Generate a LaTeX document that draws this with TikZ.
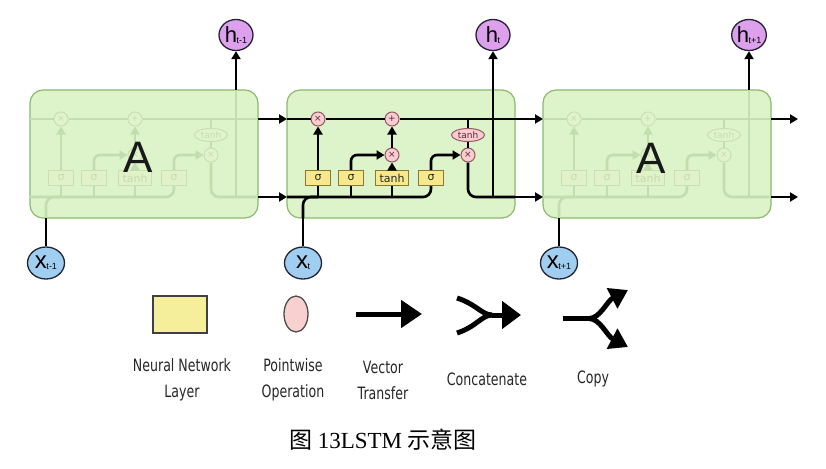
\documentclass[tikz,border=0pt]{standalone}
\usepackage{fontspec}
\setmainfont{Liberation Serif}
\newfontfamily\cjkfont{Noto Sans CJK SC}
\newfontfamily\dvs{DejaVu Sans}
\newfontfamily\legfont[FakeStretch=0.74]{DejaVu Sans}
\newfontfamily\lsans{Liberation Sans}
\usetikzlibrary{arrows.meta,shapes.geometric}

\definecolor{boxfill}{RGB}{221,243,201}
\definecolor{boxdraw}{RGB}{140,185,112}
\colorlet{cline}{black}
\definecolor{gfill}{RGB}{246,233,140}
\definecolor{gdraw}{RGB}{140,120,50}
\definecolor{gtext}{RGB}{40,40,40}
\definecolor{ofill}{RGB}{248,205,210}
\definecolor{odraw}{RGB}{150,90,100}
\definecolor{otext}{RGB}{90,40,50}
\definecolor{hfill}{RGB}{221,160,236}
\definecolor{xfill}{RGB}{160,206,240}
\definecolor{cdraw}{RGB}{35,35,50}
\definecolor{legyellow}{RGB}{245,239,155}
\definecolor{legpink}{RGB}{248,208,208}

\newcommand\faintcolors{%
  \definecolor{cline}{RGB}{194,221,174}%
  \definecolor{gfill}{RGB}{225,242,200}%
  \definecolor{gdraw}{RGB}{200,224,178}%
  \definecolor{gtext}{RGB}{196,220,176}%
  \definecolor{ofill}{RGB}{225,243,205}%
  \definecolor{odraw}{RGB}{200,224,180}%
  \definecolor{otext}{RGB}{196,220,176}%
}

\tikzset{
  cl/.style={line width=2.6pt, draw=cline},
  ca/.style={cl, -{Triangle[length=8pt,width=9pt]}},
  cellbox/.style={draw=boxdraw, fill=boxfill, line width=1.2pt, rounded corners=13pt,
    minimum width=228pt, minimum height=128pt, inner sep=0pt},
  gate/.style={rectangle, draw=gdraw, fill=gfill, text=gtext, line width=1pt,
    minimum width=25pt, minimum height=15pt, inner sep=0pt, font=\dvs\fontsize{11}{11}\selectfont},
  op/.style={circle, draw=odraw, fill=ofill, text=otext, line width=1pt,
    minimum size=14pt, inner sep=0pt, font=\dvs\fontsize{9}{9}\selectfont},
  opt/.style={ellipse, draw=odraw, fill=ofill, text=otext, line width=1pt,
    minimum width=33pt, minimum height=13pt, inner sep=0pt, font=\dvs\fontsize{9}{9}\selectfont},
  hnode/.style={ellipse, draw=cdraw, fill=hfill, line width=1.3pt,
    minimum width=34pt, minimum height=31pt, inner sep=0pt, font=\lsans},
  xnode/.style={ellipse, draw=cdraw, fill=xfill, line width=1.3pt,
    minimum width=37pt, minimum height=32pt, inner sep=0pt, font=\lsans},
  biglabel/.style={font=\lsans\fontsize{44}{44}\selectfont, text=black!90},
  legtext/.style={font=\legfont\fontsize{17}{26}\selectfont, align=center, text=black!85},
  legline/.style={line width=5pt, draw=black},
}

\newcommand\hlab[1]{{\fontsize{22}{22}\selectfont h}\kern-0.5pt\raisebox{-1pt}{\fontsize{9}{9}\selectfont #1}}
\newcommand\xlab[1]{{\fontsize{24}{24}\selectfont x}\kern-0.5pt\raisebox{-1pt}{\fontsize{9}{9}\selectfont #1}}

\newcommand\lstmcell[3]{%
\begin{scope}[xshift=#2pt]
#3
\node[cellbox] (#1-box) at (401,154) {};
\coordinate (#1-cin) at (287,119);
\coordinate (#1-cout) at (515,119);
\coordinate (#1-hin) at (287,197);
\coordinate (#1-hout) at (515,197);
\coordinate (#1-htop) at (493,90);
\coordinate (#1-xb) at (303,218);
\node[op] (#1-m1) at (318,119) {×};
\node[op] (#1-p) at (392,119) {+};
\node[op] (#1-m2) at (392,155) {×};
\node[op] (#1-m3) at (468,155) {×};
\node[opt] (#1-th) at (468,135) {tanh};
\node[gate] (#1-s1) at (318,178) {σ};
\node[gate] (#1-s2) at (351,178) {σ};
\node[gate, minimum width=33pt] (#1-tb) at (392,178) {tanh};
\node[gate] (#1-s3) at (431,178) {σ};
\draw[cl] (#1-cin) -- (#1-m1) -- (#1-p) -- (#1-cout);
\draw[cl, rounded corners=8pt] (#1-hin) -| (#1-s3.south);
\draw[cl, rounded corners=8pt] (#1-xb) |- (#1-s1.south |- #1-hin);
\draw[cl] (#1-s1.south |- #1-hin) -- (#1-s1.south);
\draw[cl] (#1-s2.south |- #1-hin) -- (#1-s2.south);
\draw[cl] (#1-tb.south |- #1-hin) -- (#1-tb.south);
\draw[ca] (#1-s1.north) -- (#1-m1.south);
\draw[ca, rounded corners=6pt] (#1-s2.north) |- (#1-m2.west);
\draw[ca] (#1-tb.north) -- (#1-m2.south);
\draw[ca] (#1-m2.north) -- (#1-p.south);
\draw[ca, rounded corners=6pt] (#1-s3.north) |- (#1-m3.west);
\draw[cl] (#1-th.north |- #1-cin) -- (#1-th.north);
\draw[cl] (#1-th.south) -- (#1-m3.north);
\draw[cl, rounded corners=8pt] (#1-m3.south) |- (#1-hout);
\draw[cl] (#1-htop |- #1-hout) -- (#1-htop);
\end{scope}}

\begin{document}
\begin{tikzpicture}[x=1pt,y=-1pt]
\path[use as bounding box] (0,0) rectangle (826,468);

\lstmcell{L}{-257}{\faintcolors}
\lstmcell{M}{0}{}
\lstmcell{R}{256}{\faintcolors}

\node[biglabel] (L-A) at (138,157) {A};
\node[biglabel] (R-A) at (651,158) {A};

% outputs h
\node[hnode] (h1) at (236,35) {\hlab{t-1}};
\node[hnode] (h2) at (493,35) {\hlab{t}};
\node[hnode] (h3) at (749,35) {\hlab{t+1}};
% inputs x
\node[xnode] (x1) at (46,263) {\xlab{t-1}};
\node[xnode] (x2) at (303,263) {\xlab{t}};
\node[xnode] (x3) at (559,263) {\xlab{t+1}};

\draw[ca] (L-htop) -- (h1);
\draw[ca] (M-htop) -- (h2);
\draw[ca] (R-htop) -- (h3);
\draw[cl] (x1) -- (L-xb);
\draw[cl] (x2) -- (M-xb);
\draw[cl] (x3) -- (R-xb);

\draw[ca] (L-cout) -- (M-cin);
\draw[ca] (L-hout) -- (M-hin);
\draw[ca] (M-cout) -- (R-cin);
\draw[ca] (M-hout) -- (R-hin);
\coordinate (e1) at (798,119);
\coordinate (e2) at (798,197);
\draw[ca] (R-cout) -- (e1);
\draw[ca] (R-hout) -- (e2);

% legend
\node[rectangle, draw=black!75, fill=legyellow, line width=1.5pt,
  minimum width=54pt, minimum height=37pt, inner sep=0pt] (nn) at (180,314.5) {};
\node[ellipse, draw=black!70, fill=legpink, line width=1.3pt,
  minimum width=24pt, minimum height=36pt, inner sep=0pt] (pw) at (296,314) {};
\coordinate (vt1) at (356,314);
\coordinate (vt2) at (422,314);
\draw[legline, -{Triangle[length=21pt,width=27pt]}] (vt1) -- (vt2);

\coordinate (c1) at (457,298);
\coordinate (c2) at (457,333);
\coordinate (cm) at (492,315);
\coordinate (c3) at (521,315);
\draw[legline] (c1) .. controls (476,304) and (482,315) .. (cm);
\draw[legline] (c2) .. controls (476,327) and (482,315) .. (cm);
\draw[legline, -{Triangle[length=19pt,width=27pt]}] (cm) -- (c3);

\coordinate (s1) at (563,318.5);
\coordinate (s2) at (589,318.5);
\coordinate (cu) at (628,290);
\coordinate (cd) at (628,347);
\draw[legline] (s1) -- (s2);
\draw[legline, -{Triangle[length=18pt,width=22pt]}] (s2) .. controls (600,318.5) and (607,301) .. (cu);
\draw[legline, -{Triangle[length=18pt,width=22pt]}] (s2) .. controls (600,318.5) and (607,336) .. (cd);

\node[legtext] (nnl) at (182,380) {Neural Network\\Layer};
\node[legtext] (pwl) at (293,380) {Pointwise\\Operation};
\node[legtext] (vtl) at (383,380) {Vector\\Transfer};
\node[legtext] (ccl) at (487,379) {Concatenate};
\node[legtext] (cpl) at (593,379) {Copy};

\node[font=\fontsize{23}{23}\selectfont] (cap) at (383,440) {{\cjkfont 图} 13LSTM {\cjkfont 示意图}};
\end{tikzpicture}
\end{document}
